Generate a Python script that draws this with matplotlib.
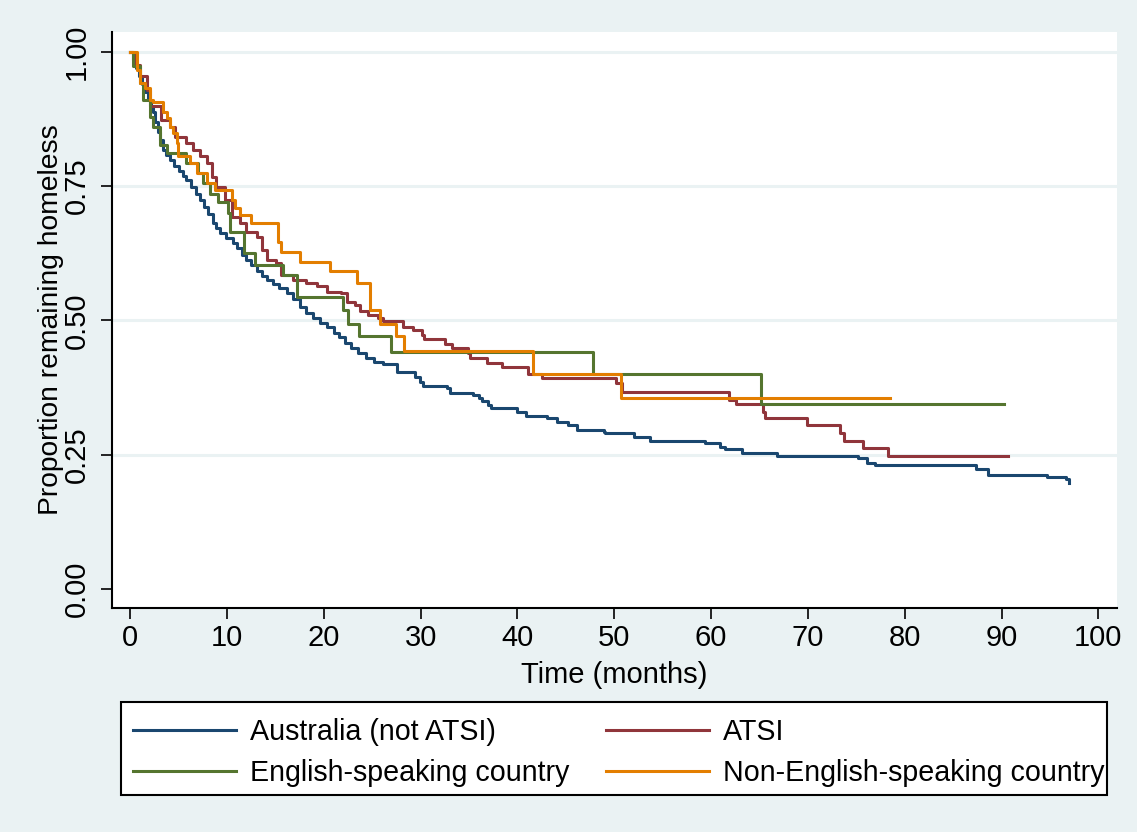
#! /usr/bin/env python3

"""
Kaplan-Meier curves: proportion remaining homeless by country of birth.
"""

import matplotlib
matplotlib.use('Agg')
import matplotlib.pyplot as plt
from matplotlib.patches import Rectangle

# step points (time in months, survival)
aus_t = [0, 0.3, 0.6, 0.9, 1.2, 1.5, 1.8, 2.1, 2.35, 2.6, 2.9, 3.1, 3.4, 3.7, 4.1, 4.5,
         5.0, 5.4, 5.8, 6.3, 6.8, 7.2, 7.6, 8.0, 8.5, 8.9, 9.3, 9.9, 10.6, 11.0, 11.5,
         12.0, 12.5, 13.1, 13.6, 14.1, 14.7, 15.4, 16.2, 16.8, 17.5, 18.2, 18.9, 19.6,
         20.3, 21.0, 21.6, 22.2, 22.8, 23.5, 24.4, 25.2, 26.1, 27.6, 29.4, 29.9, 30.2,
         32.7, 33.0, 35.4, 36.0, 36.3, 37.0, 37.3, 39.9, 40.9, 43.0, 44.1, 45.2, 46.1,
         48.9, 49.0, 52.0, 53.7, 59.4, 60.9, 61.4, 63.2, 66.8, 75.2, 76.1, 76.9, 87.4,
         88.6, 94.7, 96.7, 97.0]
aus_s = [1.0, 0.985, 0.97, 0.955, 0.94, 0.925, 0.91, 0.897, 0.888, 0.87, 0.85, 0.835,
         0.817, 0.807, 0.798, 0.788, 0.778, 0.769, 0.761, 0.748, 0.736, 0.724, 0.711,
         0.697, 0.681, 0.671, 0.662, 0.653, 0.644, 0.634, 0.622, 0.612, 0.603, 0.592,
         0.583, 0.575, 0.568, 0.560, 0.551, 0.540, 0.525, 0.514, 0.505, 0.495, 0.487,
         0.477, 0.469, 0.458, 0.449, 0.440, 0.430, 0.422, 0.419, 0.404, 0.395, 0.385,
         0.377, 0.374, 0.365, 0.361, 0.355, 0.349, 0.342, 0.337, 0.330, 0.322, 0.318,
         0.311, 0.305, 0.296, 0.293, 0.290, 0.282, 0.276, 0.272, 0.265, 0.260, 0.254,
         0.248, 0.243, 0.234, 0.230, 0.223, 0.213, 0.209, 0.204, 0.197]

atsi_t = [0, 0.5, 1.0, 1.7, 2.05, 3.2, 4.1, 4.6, 5.8, 6.5, 7.2, 7.9, 8.4, 8.9, 9.8,
          10.5, 11.3, 12.0, 13.1, 13.6, 14.1, 15.1, 15.6, 16.8, 18.2, 19.3, 20.3, 21.8,
          22.4, 23.2, 23.7, 24.6, 25.6, 26.1, 28.2, 29.2, 30.1, 30.3, 32.5, 33.2, 34.9,
          35.1, 36.8, 38.4, 41.1, 42.5, 50.2, 50.8, 61.8, 62.6, 65.4, 65.6, 66.4, 69.9,
          73.3, 73.7, 75.7, 78.3, 90.7]
atsi_s = [1.0, 0.975, 0.955, 0.929, 0.898, 0.873, 0.860, 0.842, 0.830, 0.817, 0.805,
          0.792, 0.767, 0.749, 0.724, 0.693, 0.681, 0.665, 0.656, 0.631, 0.612, 0.606,
          0.584, 0.575, 0.569, 0.563, 0.553, 0.550, 0.535, 0.529, 0.518, 0.510, 0.504,
          0.498, 0.488, 0.482, 0.473, 0.465, 0.456, 0.448, 0.439, 0.429, 0.420, 0.413,
          0.401, 0.392, 0.383, 0.367, 0.352, 0.344, 0.330, 0.318, 0.318, 0.305, 0.290,
          0.275, 0.262, 0.248, 0.248]

eng_t = [0, 0.3, 1.0, 1.35, 2.0, 2.4, 3.1, 3.8, 5.8, 7.0, 7.5, 8.2, 9.1, 10.1, 10.3,
         11.7, 12.9, 15.8, 17.2, 22.0, 22.5, 23.6, 26.9, 47.8, 65.2, 90.3]
eng_s = [1.0, 0.973, 0.941, 0.910, 0.879, 0.860, 0.826, 0.811, 0.792, 0.774, 0.755,
         0.736, 0.721, 0.699, 0.665, 0.625, 0.603, 0.584, 0.544, 0.519, 0.494, 0.470,
         0.441, 0.401, 0.344, 0.344]

neng_t = [0, 0.65, 1.0, 1.5, 2.0, 2.35, 3.4, 3.8, 4.1, 4.4, 4.8, 4.9, 6.2, 6.9, 7.9,
          8.8, 10.5, 10.8, 11.3, 12.5, 15.3, 15.6, 17.5, 20.6, 23.4, 24.8, 25.8, 27.5,
          28.3, 41.6, 50.7, 78.5]
neng_s = [1.0, 0.966, 0.941, 0.932, 0.910, 0.907, 0.888, 0.876, 0.860, 0.848, 0.830,
          0.805, 0.792, 0.774, 0.755, 0.743, 0.724, 0.709, 0.696, 0.681, 0.646, 0.628,
          0.609, 0.591, 0.570, 0.519, 0.493, 0.470, 0.443, 0.400, 0.355, 0.355]

GROUPS = [
    ('Australia (not ATSI)', aus_t, aus_s, '#1a476f'),
    ('ATSI', atsi_t, atsi_s, '#90353b'),
    ('English-speaking country', eng_t, eng_s, '#55752f'),
    ('Non-English-speaking country', neng_t, neng_s, '#e37e00'),
]

X_TICKS = list(range(0, 101, 10))
Y_TICKS = [0.0, 0.25, 0.5, 0.75, 1.0]

BG = '#eaf2f3'
FONT = ['Liberation Sans', 'DejaVu Sans']


def main() -> None:
    plt.rcParams['font.family'] = FONT
    plt.rcParams['font.size'] = 21

    fig = plt.figure(figsize=(11.37, 8.32), dpi=100, facecolor=BG)
    ax = fig.add_axes((0.0982, 0.2696, 0.8845, 0.6916))
    ax.set_facecolor('white')

    for y in Y_TICKS[1:]:
        ax.axhline(y, color=BG, lw=2.2, zorder=1)

    handles = []
    for label, t, s, color in GROUPS:
        line, = ax.step(t, s, where='post', color=color, lw=2.2, label=label, zorder=3)
        handles.append(line)

    ax.set_xlim(-1.92, 101.96)
    ax.set_ylim(-0.0348, 1.0361)
    ax.set_xticks(X_TICKS)
    ax.set_yticks(Y_TICKS)
    ax.set_yticklabels([f'{v:.2f}' for v in Y_TICKS], rotation=90, va='center')

    for side in ('top', 'right'):
        ax.spines[side].set_visible(False)
    for side in ('left', 'bottom'):
        ax.spines[side].set_linewidth(1.5)
        ax.spines[side].set_color('black')
    ax.tick_params(axis='both', length=8, width=1.2, color='black')
    ax.tick_params(axis='x', pad=4)
    ax.tick_params(axis='y', pad=7)

    ax.set_xlabel('Time (months)', labelpad=6)
    ax.set_ylabel('Proportion remaining homeless', fontsize=20.3)
    ax.yaxis.set_label_coords(-0.047, 0.5)

    # legend box, filled row by row like the original
    fig.patches.append(Rectangle((121.3 / 1137, 1 - 795 / 832), (1107 - 121.3) / 1137, 93.3 / 832,
                                 transform=fig.transFigure, facecolor='white',
                                 edgecolor='black', lw=1.5, zorder=0))
    order = [0, 2, 1, 3]
    fig.legend(handles=[handles[i] for i in order], ncol=2, frameon=False, loc='upper left',
               bbox_to_anchor=(133 / 1137, 1 - 718 / 832), handlelength=3.6,
               handletextpad=0.48, columnspacing=1.3, labelspacing=0.45,
               borderpad=0, borderaxespad=0, fontsize=20.6)

    fig.savefig('out.png', facecolor=BG)


if __name__ == '__main__':
    main()
